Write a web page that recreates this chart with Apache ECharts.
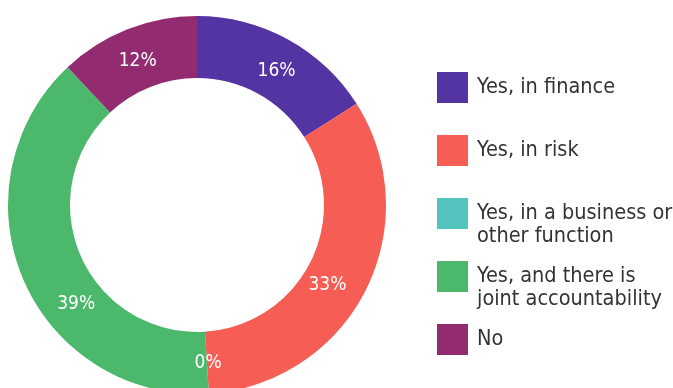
<!DOCTYPE html>
<html>
<head>
<meta charset="utf-8">
<script src="https://cdn.jsdelivr.net/npm/echarts@6/dist/echarts.min.js"></script>
<style>
  html, body { margin: 0; padding: 0; background: #fff; }
  #chart { width: 673px; height: 388px; }
</style>
</head>
<body>
<div id="chart"></div>
<script>
// Answer categories and their shares (%)
const categories = [
  'Yes, in finance',
  'Yes, in risk',
  'Yes, in a business or\nother function',
  'Yes, and there is\njoint accountability',
  'No'
];
const shares = [16, 33, 0, 39, 12];
const colors = ['#5433a2', '#f65d55', '#52c4bd', '#4bb86b', '#932b70'];

// Top edge of each legend swatch
const swatchTops = [72, 135, 198, 261, 324];
// Fine nudges for the percentage labels inside the ring
const labelNudges = [[2, 7], [-13, 7], [1, -3], [27, 35], [0, 6]];

const font = '"DejaVu Sans Condensed", "DejaVu Sans", sans-serif';
const swatch = 31;
const lineH = 23;

const legends = categories.map((name, i) => {
  const multiLine = name.indexOf('\n') >= 0;
  // two-line entries get a blank leading line so the first line sits level
  // with the swatch; the item box then grows to three lines, centred on the swatch
  const boxH = multiLine ? 3 * lineH : swatch;
  return {
    data: [name],
    left: 437,
    top: swatchTops[i] + swatch / 2 - boxH / 2,
    padding: 0,
    icon: 'rect',
    itemWidth: swatch,
    itemHeight: swatch,
    selectedMode: false,
    formatter: multiLine ? (n) => '\n' + n : (n) => n,
    textStyle: {
      fontFamily: font,
      fontSize: 21.5,
      color: '#333333',
      lineHeight: lineH,
      padding: [0, 0, 0, 4]
    }
  };
});

const chart = echarts.init(document.getElementById('chart'), null, { renderer: 'canvas' });
chart.setOption({
  animation: false,
  color: colors,
  legend: legends,
  series: [{
    type: 'pie',
    center: [197, 205],
    radius: [127, 189],
    startAngle: 90,
    clockwise: true,
    avoidLabelOverlap: false,
    label: {
      show: true,
      position: 'inside',
      formatter: '{c}%',
      color: '#ffffff',
      fontFamily: font,
      fontSize: 19
    },
    labelLayout: (p) => ({ dx: labelNudges[p.dataIndex][0], dy: labelNudges[p.dataIndex][1] }),
    labelLine: { show: false },
    emphasis: { disabled: true },
    itemStyle: { borderWidth: 0 },
    data: categories.map((name, i) => ({ name: name, value: shares[i] }))
  }]
});
</script>
</body>
</html>
